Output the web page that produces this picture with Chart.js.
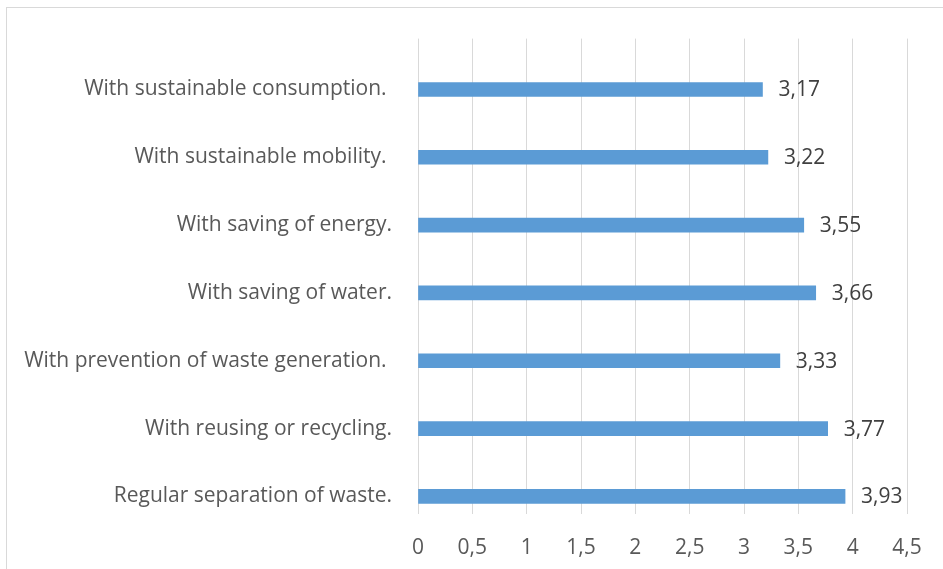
<!DOCTYPE html>
<html>
<head>
<meta charset="utf-8">
<script src="https://cdn.jsdelivr.net/npm/chart.js@4.4.1/dist/chart.umd.min.js"></script>
<style>
  html, body { margin: 0; padding: 0; background: #ffffff; overflow: hidden; }
  #frame {
    position: absolute; left: 6px; top: 7px; width: 1000px; height: 700px;
    border-left: 1px solid #d9d9d9; border-top: 1px solid #d9d9d9;
  }
  #wrap { position: absolute; left: 0; top: 0; width: 943px; height: 569px; }
</style>
</head>
<body>
<div id="frame"></div>
<div id="wrap"><canvas id="chart" width="943" height="569"></canvas></div>
<script>
const categories = [
  'With sustainable consumption. ',
  'With sustainable mobility. ',
  'With saving of energy.',
  'With saving of water.',
  'With prevention of waste generation. ',
  'With reusing or recycling.',
  'Regular separation of waste.'
];
const meanScores = [3.17, 3.22, 3.55, 3.66, 3.33, 3.77, 3.93];
const axisMin = 0;
const axisMax = 4.5;
const axisStep = 0.5;

const textColor = '#595959';
const valueColor = '#404040';
const fontFamily = "'Open Sans', 'Liberation Sans', sans-serif";
const fontSize = 21;

const commaDecimal = v => String(v).replace('.', ',');

// Writes each bar's value just past its end
const valueLabels = {
  id: 'valueLabels',
  afterDatasetsDraw(chart) {
    const ctx = chart.ctx;
    const meta = chart.getDatasetMeta(0);
    ctx.save();
    ctx.font = fontSize + 'px ' + fontFamily;
    ctx.fillStyle = valueColor;
    ctx.textAlign = 'left';
    ctx.textBaseline = 'middle';
    meta.data.forEach((bar, i) => {
      ctx.fillText(commaDecimal(meanScores[i].toFixed(2)), bar.x + 16, bar.y + 1);
    });
    ctx.restore();
  }
};

new Chart(document.getElementById('chart'), {
  type: 'bar',
  data: {
    datasets: [{
      data: meanScores.map((v, i) => ({ x: v, y: i })),
      backgroundColor: '#5b9bd5',
      borderWidth: 0,
      barThickness: 14
    }]
  },
  options: {
    indexAxis: 'y',
    responsive: false,
    animation: false,
    layout: { padding: { left: 0, right: 36, top: 36, bottom: 0 } },
    plugins: {
      legend: { display: false },
      tooltip: { enabled: false }
    },
    scales: {
      x: {
        type: 'linear',
        min: axisMin,
        max: axisMax,
        ticks: {
          stepSize: axisStep,
          color: textColor,
          font: { family: fontFamily, size: fontSize },
          padding: 21,
          callback: v => commaDecimal(v)
        },
        grid: { color: '#d9d9d9', lineWidth: 1, drawTicks: false },
        border: { display: false },
        afterFit(scale) { scale.height = 55; }
      },
      y: {
        type: 'linear',
        reverse: true,
        offset: false,
        bounds: 'data',
        grace: 0,
        min: -0.75,
        max: 6.26,
        afterBuildTicks(scale) {
          scale.ticks = categories.map((_, i) => ({ value: i }));
        },
        ticks: {
          color: textColor,
          font: { family: fontFamily, size: fontSize },
          padding: 26,
          callback: v => categories[v]
        },
        grid: { display: false, drawTicks: false, offset: false },
        border: { display: false },
        afterFit(scale) { scale.width = 418; }
      }
    }
  },
  plugins: [valueLabels]
});
</script>
</body>
</html>
